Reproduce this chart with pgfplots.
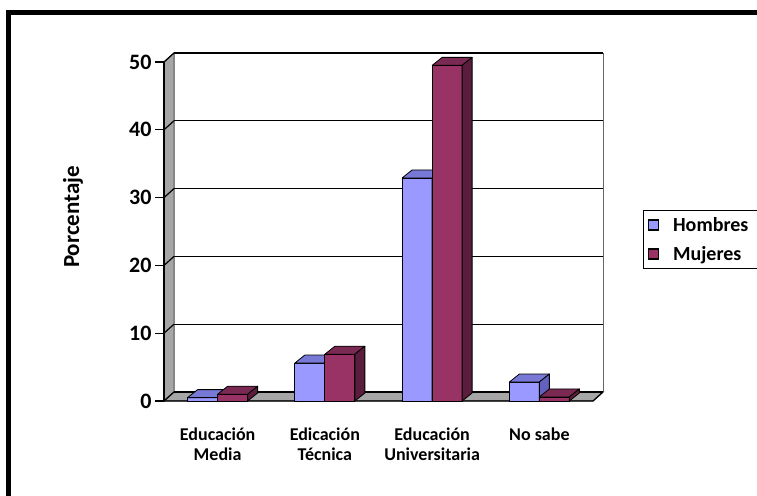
\documentclass[border=0pt]{standalone}
\usepackage{pgfplots}
\pgfplotsset{compat=1.18}
\usepackage{pgfplotstable}
\usepackage{fontspec}
\setmainfont{Carlito}

\definecolor{hfront}{HTML}{9999FF}
\definecolor{htop}{HTML}{7878D6}
\definecolor{hside}{HTML}{6262BE}
\definecolor{mfront}{HTML}{993366}
\definecolor{mtop}{HTML}{7A2952}
\definecolor{mside}{HTML}{5A1E3C}
\definecolor{wall}{HTML}{A6A6A6}

% porcentaje por nivel educativo
\pgfplotstableread{
x Hombres Mujeres
0 0.5 1.0
1 5.6 6.9
2 32.9 49.5
3 2.8 0.6
}\datos

% depth faces of a column: #1 = left edge of the front face, #2 = top colour, #3 = side colour
\pgfplotsset{
  cara3d/.style n args={3}{
    only marks, mark=*, mark size=0pt, forget plot,
    visualization depends on={rawy \as \val},
    scatter,
    scatter/@pre marker code/.code={%
      \pgfmathsetmacro\hh{\val*6.78}%
      \pgfmathsetmacro\xa{#1}%
      \pgfmathsetmacro\xb{#1+30}%
      \pgfmathsetmacro\xc{#1+40}%
      \pgfmathsetmacro\xd{#1+10}%
      \path[fill=#2, draw=black, line width=0.8pt, line join=round]
        (\xa pt,0pt) -- (\xb pt,0pt) -- (\xc pt,8pt) -- (\xd pt,8pt) -- cycle;
      \path[fill=#3, draw=black, line width=0.8pt, line join=round]
        (\xb pt,0pt) -- (\xc pt,8pt) -- (\xc pt,8pt-\hh pt) -- (\xb pt,-\hh pt) -- cycle;
      \begin{scope}},
    scatter/@post marker code/.code={\end{scope}},
  },
}

\begin{document}
\begin{tikzpicture}[x=1pt,y=1pt]
\useasboundingbox (0,0) rectangle (757,495);
% outer frame
\draw[line width=5pt] (8.5,-10) -- (8.5,482.5) -- (780,482.5);

% walls and floor
\fill[white] (174,103) rectangle (603,442);
\draw[black!60, line width=1pt] (603,103) -- (603,442);
\path[fill=wall, draw=black!70, line width=1pt] (164,94) -- (174,103) -- (174,442) -- (164,433) -- cycle;
\path[fill=wall, draw=black!70, line width=1pt] (164,94) -- (593,94) -- (603,103) -- (174,103) -- cycle;
\foreach \v in {0,10,...,50}
  \draw[black, line width=1.2pt] (164,94+\v*6.78) -- ++(10,9);
\draw[black, line width=1.2pt] (164,94) -- (164,433);
\draw[black, line width=1.2pt] (164,94) -- (593,94) -- (603,103);

% vertical label
\node[rotate=90, font=\bfseries\fontsize{23}{27}\selectfont] at (73,278) {Porcentaje};

\begin{axis}[
  at={(164pt,94pt)}, anchor=south west,
  x=107.25pt, y=6.78pt,
  xmin=-0.5, xmax=3.5, ymin=0, ymax=50,
  clip=false, clip mode=individual,
  axis line style={draw=none},
  /pgf/number format/assume math mode=true,
  ytick={0,10,...,50},
  ytick pos=left,
  yticklabel style={font=\bfseries\fontsize{22}{26}\selectfont},
  ymajorgrids,
  major grid style={black, line width=1.3pt, xshift=10pt, yshift=9pt},
  tick align=outside,
  major tick length=9pt,
  tick style={black, line width=1.2pt},
  xtick={0,1,2,3},
  xticklabels={Educación\\Media, Edicación\\Técnica, Educación\\Universitaria, No sabe},
  xticklabel style={font=\bfseries\fontsize{18}{20}\selectfont, align=center, anchor=north, yshift=-14pt},
  xtick style={draw=none},
  xtick pos=bottom,
  extra x ticks={-0.5,0.5,1.5,2.5,3.5},
  extra x tick labels={},
  extra x tick style={xtick style={black, line width=1.2pt}, major tick length=8pt},
  legend style={at={(axis description cs:1.1166,0.5634)}, anchor=north west,
    draw=black, line width=1pt, font=\bfseries\fontsize{20}{24}\selectfont,
    inner xsep=4pt, inner ysep=5pt, row sep=9pt,
    /tikz/every odd column/.append style={column sep=12pt}},
  legend cell align=left,
]
\addplot[ybar, bar width=30pt, bar shift=-15pt, fill=hfront, draw=black, line width=0.8pt,
  legend image code/.code={\draw[fill=hfront, draw=black, line width=1.6pt] (0pt,-5pt) rectangle (10pt,5pt);}]
  table[x=x, y=Hombres] {\datos};
\addlegendentry{Hombres\hspace*{20pt}}
\addplot[cara3d={-30}{htop}{hside}] table[x=x, y=Hombres] {\datos};
\addplot[ybar, bar width=30pt, bar shift=15pt, fill=mfront, draw=black, line width=0.8pt,
  legend image code/.code={\draw[fill=mfront, draw=black, line width=1.6pt] (0pt,-5pt) rectangle (10pt,5pt);}]
  table[x=x, y=Mujeres] {\datos};
\addlegendentry{Mujeres}
\addplot[cara3d={0}{mtop}{mside}] table[x=x, y=Mujeres] {\datos};
\end{axis}
\end{tikzpicture}
\end{document}
